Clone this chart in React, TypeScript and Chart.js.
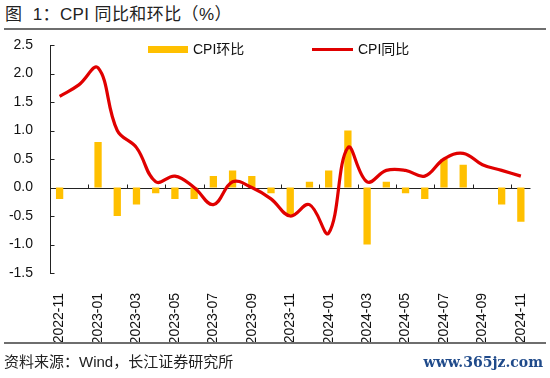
import React, { useEffect, useRef } from "react";
import { Chart, registerables } from "chart.js";

Chart.register(...registerables);

const categories = [
  "2022-11", "2022-12", "2023-01", "2023-02", "2023-03", "2023-04", "2023-05",
  "2023-06", "2023-07", "2023-08", "2023-09", "2023-10", "2023-11", "2023-12",
  "2024-01", "2024-02", "2024-03", "2024-04", "2024-05", "2024-06", "2024-07",
  "2024-08", "2024-09", "2024-10", "2024-11",
];
const momValues = [
  -0.2, 0.0, 0.8, -0.5, -0.3, -0.1, -0.2, -0.2, 0.2, 0.3, 0.2, -0.1, -0.5, 0.1,
  0.3, 1.0, -1.0, 0.1, -0.1, -0.2, 0.5, 0.4, 0.0, -0.3, -0.6,
];
const yoyValues = [
  1.6, 1.8, 2.1, 1.0, 0.7, 0.1, 0.2, 0.0, -0.3, 0.1, 0.0, -0.2, -0.5, -0.3,
  -0.8, 0.7, 0.1, 0.3, 0.3, 0.2, 0.5, 0.6, 0.4, 0.3, 0.2,
];
const seriesNames = ["CPI环比", "CPI同比"];
const yMin = -1.5;
const yMax = 2.5;
const yStep = 0.5;

const BAR_COLOR = "#FFC000";
const LINE_COLOR = "#E00000";
const FONT = "'Liberation Sans', 'Noto Sans CJK SC', Arial, sans-serif";

const axisPlugin = {
  id: "axisExtras",
  beforeDatasetsDraw(chart: any) {
    const { ctx, chartArea, scales } = chart;
    const x = scales.x;
    const y = scales.y;
    const y0 = Math.round(y.getPixelForValue(0)) + 0.5;
    ctx.save();
    ctx.strokeStyle = "#222";
    ctx.lineWidth = 1;
    ctx.beginPath();
    ctx.moveTo(chartArea.left, y0);
    ctx.lineTo(chartArea.right, y0);
    ctx.stroke();
    const half = (x.getPixelForValue(1) - x.getPixelForValue(0)) / 2;
    ctx.beginPath();
    for (let i = 2; i < categories.length; i += 2) {
      const px = Math.round(x.getPixelForValue(i) - half) + 0.5;
      ctx.moveTo(px, y0);
      ctx.lineTo(px, y0 - 4);
    }
    ctx.stroke();
    const ax = Math.round(chartArea.left) + 0.5;
    ctx.beginPath();
    for (let v = yMin; v <= yMax + 1e-9; v += yStep) {
      const py = Math.round(y.getPixelForValue(v)) + 0.5;
      ctx.moveTo(ax, py);
      ctx.lineTo(ax + 4, py);
    }
    ctx.stroke();
    ctx.restore();
  },
  afterDraw(chart: any) {
    const { ctx } = chart;
    ctx.save();
    ctx.font = `14px ${FONT}`;
    ctx.textBaseline = "middle";
    ctx.fillStyle = BAR_COLOR;
    ctx.fillRect(148, 46, 40, 7);
    ctx.fillStyle = "#111";
    ctx.fillText(seriesNames[0], 193, 50);
    ctx.strokeStyle = LINE_COLOR;
    ctx.lineWidth = 3;
    ctx.beginPath();
    ctx.moveTo(312, 49.5);
    ctx.lineTo(353, 49.5);
    ctx.stroke();
    ctx.fillText(seriesNames[1], 358, 50);
    ctx.restore();
  },
};

export default function App() {
  const canvasRef = useRef<HTMLCanvasElement | null>(null);

  useEffect(() => {
    if (!canvasRef.current) return;
    const chart = new Chart(canvasRef.current, {
      type: "bar",
      data: {
        labels: categories,
        datasets: [
          {
            type: "line",
            label: seriesNames[1],
            data: yoyValues,
            borderColor: LINE_COLOR,
            backgroundColor: LINE_COLOR,
            borderWidth: 3.2,
            pointRadius: 0,
            tension: 0.4,
            order: 0,
          } as any,
          {
            type: "bar",
            label: seriesNames[0],
            data: momValues,
            backgroundColor: BAR_COLOR,
            barPercentage: 0.38,
            categoryPercentage: 1,
            order: 1,
          },
        ],
      },
      options: {
        responsive: false,
        animation: false,
        devicePixelRatio: 1,
        layout: { padding: { top: 45, right: 17, left: 0, bottom: 0 } },
        plugins: {
          legend: { display: false },
          tooltip: { enabled: false },
          title: { display: false },
        },
        scales: {
          x: {
            type: "category",
            offset: true,
            grid: { display: false },
            border: { display: false },
            ticks: {
              autoSkip: false,
              maxRotation: 90,
              minRotation: 90,
              padding: 12,
              color: "#111",
              font: { size: 14, family: FONT },
              callback: (_v: any, i: number) => (i % 2 === 0 ? categories[i] : ""),
            },
            afterFit: (s: any) => {
              s.height = 105;
            },
          },
          y: {
            min: yMin,
            max: yMax,
            grid: { display: false, drawTicks: false },
            border: { display: true, color: "#222", width: 1 },
            ticks: {
              stepSize: yStep,
              padding: 17,
              color: "#111",
              font: { size: 14, family: FONT },
              callback: (v: any) => Number(v).toFixed(1),
            },
            afterFit: (s: any) => {
              s.width = 50;
            },
          },
        },
      },
      plugins: [axisPlugin],
    });
    return () => chart.destroy();
  }, []);

  return (
    <div
      style={{
        position: "fixed",
        left: 0,
        top: 0,
        width: 550,
        height: 378,
        background: "#fff",
        fontFamily: FONT,
        overflow: "hidden",
      }}
    >
      <div
        style={{
          position: "absolute",
          left: 5,
          top: 6,
          fontSize: 17,
          lineHeight: "18px",
          color: "#222",
          whiteSpace: "nowrap",
          letterSpacing: 0.4,
        }}
      >
        {"图\u00A0\u00A01：CPI 同比和环比（%）"}
      </div>
      <div
        style={{
          position: "absolute",
          left: 4,
          top: 28,
          width: 542,
          height: 2,
          background: "#6e6e6e",
        }}
      />
      <canvas
        ref={canvasRef}
        width={550}
        height={378}
        style={{ position: "absolute", left: 0, top: 0, width: 550, height: 378 }}
      />
      <div
        style={{
          position: "absolute",
          left: 4,
          top: 342,
          width: 542,
          height: 2,
          background: "#6e6e6e",
        }}
      />
      <div
        style={{
          position: "absolute",
          left: 4,
          top: 353,
          fontSize: 15,
          lineHeight: "18px",
          color: "#222",
          whiteSpace: "nowrap",
        }}
      >
        资料来源：Wind，长江证券研究所
      </div>
      <div
        style={{
          position: "absolute",
          right: 7,
          top: 353,
          fontSize: 14,
          lineHeight: "18px",
          color: "#1f4a8a",
          fontFamily: "'DejaVu Serif', serif",
          fontWeight: 600,
          whiteSpace: "nowrap",
        }}
      >
        www.365jz.com
      </div>
    </div>
  );
}
